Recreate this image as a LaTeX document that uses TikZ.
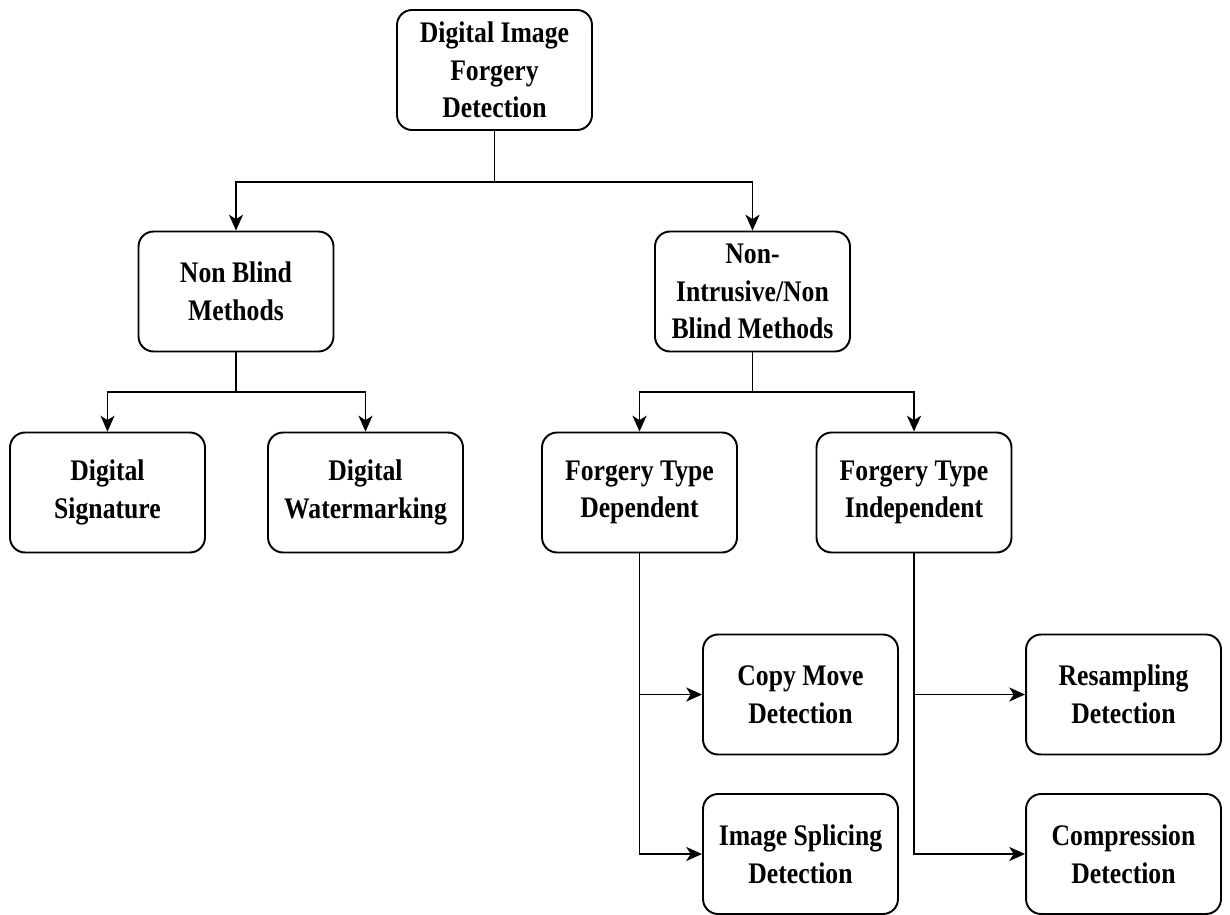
\documentclass[tikz,border=0pt]{standalone}
\usepackage{fontspec}
\setmainfont{Liberation Serif}[FakeStretch=0.86]
\usepackage{tikz}
\usetikzlibrary{positioning}
\usetikzlibrary{arrows, shapes, arrows.meta, calc}
\tikzstyle{blk} = [rectangle, rounded corners=0.3cm, minimum width=3.9cm, minimum height=2.4cm, align=center, draw=black, line width=1.1pt, font=\fontsize{17}{21.5}\selectfont\bfseries]
\tikzstyle{arrow} = [line width=1.1pt,-{Stealth[length=9pt,width=8pt,inset=2.5pt]}]

\begin{document}
\begin{tikzpicture}[x=0.02cm,y=-0.02cm]
\useasboundingbox (0,0) rectangle (1230,915);
% top level
\node[blk] (root) at (494.5,70) {Digital Image\\Forgery\\Detection};
\node[blk] (nb) at (236,291.5) {Non Blind\\Methods};
\node[blk] (ni) at (752.5,291.5) {Non-\\Intrusive/Non\\Blind Methods};
% second level
\node[blk] (ds) at (107.5,492.5) {Digital\\Signature};
\node[blk] (dw) at (365.5,492.5) {Digital\\Watermarking};
\node[blk] (fd) at (639.5,492.5) {Forgery Type\\Dependent};
\node[blk] (fi) at (914,492.5) {Forgery Type\\Independent};
% leaves
\node[blk] (cm) at (800.5,694.5) {Copy Move\\Detection};
\node[blk] (is) at (800.5,854) {Image Splicing\\Detection};
\node[blk] (rs) at (1123.5,694.5) {Resampling\\Detection};
\node[blk] (cp) at (1123.5,854) {Compression\\Detection};
% connectors
\draw[arrow] (root.south) -- ++(0,51) -| (nb.north);
\draw[arrow] (root.south) -- ++(0,51) -| (ni.north);
\draw[arrow] (nb.south) -- ++(0,40) -| (ds.north);
\draw[arrow] (nb.south) -- ++(0,40) -| (dw.north);
\draw[arrow] (ni.south) -- ++(0,40) -| (fd.north);
\draw[arrow] (ni.south) -- ++(0,40) -| (fi.north);
\draw[arrow] (fd.south) |- (is.west);
\draw[arrow] (fd.south |- cm.west) -- (cm.west);
\draw[arrow] (fi.south) |- (cp.west);
\draw[arrow] (fi.south |- rs.west) -- (rs.west);
\end{tikzpicture}
\end{document}
